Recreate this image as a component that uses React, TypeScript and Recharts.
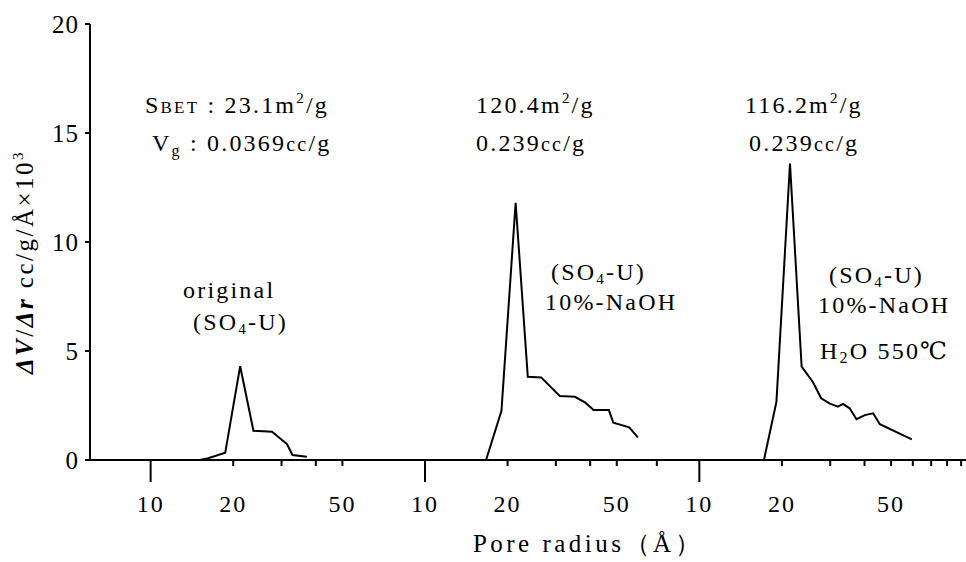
import React from 'react';
import { LineChart, Line, XAxis, YAxis } from 'recharts';

// Pore radius (Å) and dV/dr (cc/g/Å ×10^3), one list per panel
const originalRadius = [15.1, 16.2, 18.7, 21.2, 23.7, 27.7, 31.4, 32.9, 37.1];
const originalValue = [0, 0.08, 0.33, 4.3, 1.34, 1.3, 0.73, 0.23, 0.15];
const naohRadius = [16.7, 19.0, 21.4, 23.7, 26.5, 31.0, 35.2, 38.4, 41.2, 46.8, 48.6, 55.5, 59.7];
const naohValue = [0, 2.26, 11.8, 3.82, 3.79, 2.94, 2.9, 2.63, 2.29, 2.29, 1.71, 1.5, 1.04];
const steamRadius = [17.2, 19.1, 21.4, 23.6, 25.9, 27.8, 29.8, 32.0, 33.4, 35.3, 37.4, 40.1, 43.0, 45.5, 59.5];
const steamValue = [0, 2.67, 13.6, 4.28, 3.59, 2.83, 2.6, 2.45, 2.57, 2.37, 1.87, 2.06, 2.14, 1.64, 0.95];

// Tick radii on each panel's log axis
const panel1Ticks = [10, 20, 30, 40, 50];
const panel2Ticks = [10, 20, 30, 40, 50, 70];
const panel3Ticks = [10, 20, 30, 40, 50, 60, 70, 80, 90];
const labelledRadii = [10, 20, 50];
const yTicks = [0, 5, 10, 15, 20];

const FONT = "'Liberation Serif', 'DejaVu Serif', serif";

// composite axis: each panel is one log decade shifted by its panel index
const toU = (panel: number, r: number) => panel + Math.log10(r);

const buildSeries = (panel: number, radius: number[], value: number[]) =>
  radius.map((r, i) => ({ u: toU(panel, r), v: value[i] }));

const s1 = buildSeries(0, originalRadius, originalValue);
const s2 = buildSeries(1, naohRadius, naohValue);
const s3 = buildSeries(2, steamRadius, steamValue);

const tickList = [
  ...panel1Ticks.map((r) => ({ u: toU(0, r), r })),
  ...panel2Ticks.map((r) => ({ u: toU(1, r), r })),
  ...panel3Ticks.map((r) => ({ u: toU(2, r), r })),
];

const XTick = (props: any) => {
  const { x, y, payload } = props;
  const t = tickList.find((d) => Math.abs(d.u - payload.value) < 1e-6);
  if (!t) return null;
  const long = t.r === 10;
  const showLabel = labelledRadii.includes(t.r);
  return (
    <g>
      <line x1={x} x2={x} y1={y} y2={y + (long ? 22 : 6)} stroke="#000" strokeWidth={2} />
      {showLabel && (
        <text x={x} y={y + 52} textAnchor="middle" style={{ fontFamily: FONT, fontSize: 24, letterSpacing: 2 }} fill="#000">
          {t.r}
        </text>
      )}
    </g>
  );
};

const base = { fontFamily: FONT, fontSize: 24, letterSpacing: 2.2 };

export default function App() {
  return (
    <div style={{ position: 'absolute', left: 0, top: 0, width: 966, height: 562, background: '#fff', fontFamily: FONT }}>
      <LineChart width={966} height={562} margin={{ top: 24, right: 0, bottom: 42, left: 0 }}>
        <XAxis
          type="number"
          dataKey="u"
          domain={[0.779, 3.972]}
          ticks={tickList.map((t) => t.u)}
          interval={0}
          tick={<XTick />}
          tickLine={false}
          tickSize={0}
          tickMargin={0}
          axisLine={{ stroke: '#000', strokeWidth: 2 }}
          height={60}
          allowDataOverflow
        />
        <YAxis
          type="number"
          domain={[0, 20]}
          ticks={yTicks}
          interval={0}
          width={90}
          tickSize={5}
          tickMargin={6}
          tickLine={{ stroke: '#000', strokeWidth: 2 }}
          axisLine={{ stroke: '#000', strokeWidth: 2 }}
          tick={{ fill: '#000', fontSize: 25, style: { fontFamily: FONT, letterSpacing: 1 } }}
        />
        <Line data={s1} dataKey="v" type="linear" stroke="#000" strokeWidth={2} dot={false} isAnimationActive={false} />
        <Line data={s2} dataKey="v" type="linear" stroke="#000" strokeWidth={2} dot={false} isAnimationActive={false} />
        <Line data={s3} dataKey="v" type="linear" stroke="#000" strokeWidth={2} dot={false} isAnimationActive={false} />
      </LineChart>
      <svg width={966} height={562} style={{ position: 'absolute', left: 0, top: 0, pointerEvents: 'none' }}>
        <g fill="#000" style={base}>
          {/* y-axis title */}
          <text x={33} y={262} transform="rotate(-90 33 262)" textAnchor="middle" style={{ ...base, fontSize: 25, letterSpacing: 2.5 }}>
            <tspan fontStyle="italic" fontWeight="bold">ΔV</tspan>
            <tspan>/</tspan>
            <tspan fontStyle="italic" fontWeight="bold">Δr</tspan>
            <tspan> cc/g/Å×10</tspan>
            <tspan style={{ fontSize: 15 }} dy={-10}>3</tspan>
          </text>
          {/* x-axis title */}
          <text x={588} y={552} textAnchor="middle" style={{ ...base, fontSize: 25, letterSpacing: 3.5 }}>
            Pore radius（Å）
          </text>

          {/* surface area / pore volume annotations */}
          <text x={145} y={113} style={base}>
            S<tspan style={{ fontSize: 17 }}>BET</tspan> : 23.1m<tspan style={{ fontSize: 15 }} dy={-10}>2</tspan><tspan dy={10}>/g</tspan>
          </text>
          <text x={152} y={151} style={base}>
            V<tspan style={{ fontSize: 16 }} dy={5}>g</tspan><tspan dy={-5}>  : 0.0369</tspan><tspan style={{ fontSize: 20 }}>cc</tspan>/g
          </text>
          <text x={476} y={113} style={base}>
            120.4m<tspan style={{ fontSize: 15 }} dy={-10}>2</tspan><tspan dy={10}>/g</tspan>
          </text>
          <text x={476} y={151} style={base}>
            0.239<tspan style={{ fontSize: 20 }}>cc</tspan>/g
          </text>
          <text x={745} y={113} style={base}>
            116.2m<tspan style={{ fontSize: 15 }} dy={-10}>2</tspan><tspan dy={10}>/g</tspan>
          </text>
          <text x={749} y={151} style={base}>
            0.239<tspan style={{ fontSize: 20 }}>cc</tspan>/g
          </text>

          {/* sample labels */}
          <text x={183} y={298} style={base}>original</text>
          <text x={193} y={330} style={base}>
            (SO<tspan style={{ fontSize: 15 }} dy={4}>4</tspan><tspan dy={-4}>-U)</tspan>
          </text>
          <text x={551} y={280} style={base}>
            (SO<tspan style={{ fontSize: 15 }} dy={4}>4</tspan><tspan dy={-4}>-U)</tspan>
          </text>
          <text x={545} y={310} style={base}>10%-NaOH</text>
          <text x={829} y={283} style={base}>
            (SO<tspan style={{ fontSize: 15 }} dy={4}>4</tspan><tspan dy={-4}>-U)</tspan>
          </text>
          <text x={818} y={313} style={base}>10%-NaOH</text>
          <text x={820} y={359} style={base}>
            H<tspan style={{ fontSize: 16 }} dy={4}>2</tspan><tspan dy={-4}>O 550℃</tspan>
          </text>
        </g>
      </svg>
    </div>
  );
}
